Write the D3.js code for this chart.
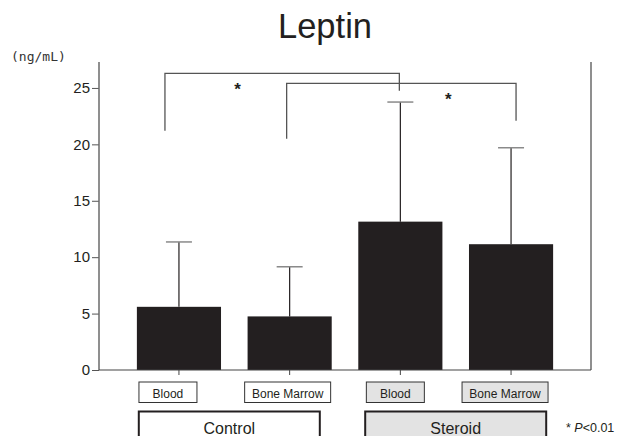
<!DOCTYPE html>
<html>
<head>
<meta charset="utf-8">
<script src="https://cdn.jsdelivr.net/npm/d3@7/dist/d3.min.js"></script>
<style>
  html, body { margin: 0; padding: 0; background: #fff; }
  svg { display: block; }
</style>
</head>
<body>
<svg id="chart" width="621" height="436"></svg>
<script>
// Leptin concentration (ng/mL), mean + SD, by treatment group and tissue
const groups  = ["Control", "Control", "Steroid", "Steroid"];
const tissues = ["Blood", "Bone Marrow", "Blood", "Bone Marrow"];
const means   = [5.6, 4.75, 13.15, 11.15];
const sds     = [5.75, 4.4, 10.6, 8.55];
const yTicks  = [0, 5, 10, 15, 20, 25];
const groupNames = ["Control", "Steroid"];

// Significance brackets: bar indices, bracket height and leg end levels (ng/mL)
const bracketFrom   = [0, 1];
const bracketTo     = [2, 3];
const bracketLevel  = [26.3, 25.4];
const bracketLeftEnd  = [21.2, 20.5];
const bracketRightEnd = [24.75, 22.1];

const keys = means.map((_, i) => i);

const svg = d3.select("#chart");
const sans = "'Liberation Sans', Arial, sans-serif";

const x = d3.scaleBand()
  .domain(keys)
  .range([123.6, 566.4])
  .paddingInner(0.24)
  .paddingOuter(0.12);

const y = d3.scaleLinear().domain([0, 27.3]).range([370, 62]);

const cx = i => x(i) + x.bandwidth() / 2;

// Title
svg.append("text")
  .attr("x", 325).attr("y", 38)
  .attr("text-anchor", "middle")
  .attr("font-family", sans)
  .attr("font-size", 34.5)
  .attr("fill", "#231f20")
  .text("Leptin");

// Unit label
svg.append("text")
  .attr("x", 11).attr("y", 61)
  .attr("font-family", "'DejaVu Sans Mono', monospace")
  .attr("font-size", 13)
  .attr("fill", "#333")
  .text("(ng/mL)");

// Bars
svg.append("g").selectAll("rect")
  .data(keys)
  .join("rect")
  .attr("x", i => x(i))
  .attr("width", x.bandwidth())
  .attr("y", i => y(means[i]))
  .attr("height", i => y(0) - y(means[i]))
  .attr("fill", "#231f20");

// Error bars (upper SD)
const err = svg.append("g");
err.selectAll("line.stem")
  .data(keys)
  .join("line")
  .attr("class", "stem")
  .attr("x1", cx).attr("x2", cx)
  .attr("y1", i => y(means[i]))
  .attr("y2", i => y(means[i] + sds[i]))
  .attr("stroke", "#231f20")
  .attr("stroke-width", 1.2);
err.selectAll("line.cap")
  .data(keys)
  .join("line")
  .attr("class", "cap")
  .attr("x1", i => cx(i) - 13).attr("x2", i => cx(i) + 13)
  .attr("y1", i => y(means[i] + sds[i]))
  .attr("y2", i => y(means[i] + sds[i]))
  .attr("stroke", "#8a8a8a")
  .attr("stroke-width", 1.5);

// Axes
const yAxis = d3.axisLeft(y)
  .tickValues(yTicks)
  .tickSize(7)
  .tickPadding(2)
  .tickFormat(d3.format("d"));
const gy = svg.append("g")
  .attr("transform", "translate(99,0)")
  .call(yAxis);
gy.select(".domain").remove();
gy.selectAll(".tick line").attr("stroke", "#555");
gy.selectAll(".tick text")
  .attr("font-family", sans)
  .attr("font-size", 15)
  .attr("fill", "#231f20");

const axisColor = "#6a6a6a";
svg.append("line")
  .attr("x1", 99).attr("x2", 99)
  .attr("y1", y.range()[1]).attr("y2", y(0))
  .attr("stroke", axisColor).attr("stroke-width", 1.5);
svg.append("line")
  .attr("x1", 591).attr("x2", 591)
  .attr("y1", y.range()[1]).attr("y2", y(0))
  .attr("stroke", axisColor).attr("stroke-width", 1.5);
svg.append("line")
  .attr("x1", 99).attr("x2", 591)
  .attr("y1", y(0)).attr("y2", y(0))
  .attr("stroke", "#444").attr("stroke-width", 1.2);

// Category ticks below the baseline
svg.append("g").selectAll("line")
  .data(keys)
  .join("line")
  .attr("x1", cx).attr("x2", cx)
  .attr("y1", y(0)).attr("y2", y(0) + 5)
  .attr("stroke", "#444").attr("stroke-width", 1);

// Significance brackets
const legOffsetL = [-14, -3];
const legOffsetR = [-1, 5];
const starFrac = [0.31, 0.705];
const br = svg.append("g");
bracketFrom.forEach((a, k) => {
  const b = bracketTo[k];
  const xl = cx(a) + legOffsetL[k];
  const xr = cx(b) + legOffsetR[k];
  const path = d3.path();
  path.moveTo(xl, y(bracketLeftEnd[k]));
  path.lineTo(xl, y(bracketLevel[k]));
  path.lineTo(xr, y(bracketLevel[k]));
  path.lineTo(xr, y(bracketRightEnd[k]));
  br.append("path")
    .attr("d", path.toString())
    .attr("fill", "none")
    .attr("stroke", "#555")
    .attr("stroke-width", 1.3);
  br.append("text")
    .attr("x", xl + (xr - xl) * starFrac[k])
    .attr("y", y(bracketLevel[k]) + 22)
    .attr("text-anchor", "middle")
    .attr("font-family", sans)
    .attr("font-size", 17)
    .attr("font-weight", "bold")
    .attr("fill", "#231f20")
    .text("*");
});

// Tissue label boxes
const groupFill = g => g === "Steroid" ? "#e3e3e3" : "#fff";
const tissueW = t => t === "Blood" ? 58 : 86;
const tissueShift = [-11, -2, -5, -6];
const tl = svg.append("g");
keys.forEach(i => {
  const c = cx(i) + tissueShift[i];
  const w = tissueW(tissues[i]);
  tl.append("rect")
    .attr("x", c - w / 2).attr("y", 382)
    .attr("width", w).attr("height", 20.5)
    .attr("fill", groupFill(groups[i]))
    .attr("stroke", "#333").attr("stroke-width", 1);
  tl.append("text")
    .attr("x", c).attr("y", 397.5)
    .attr("text-anchor", "middle")
    .attr("font-family", sans)
    .attr("font-size", 12)
    .attr("fill", "#231f20")
    .text(tissues[i]);
});

// Group label boxes
const groupShift = [-5, 0];
const gl = svg.append("g");
groupNames.forEach((g, gi) => {
  const idx = keys.filter(i => groups[i] === g);
  const c = (cx(idx[0]) + cx(idx[idx.length - 1])) / 2 + groupShift[gi];
  gl.append("rect")
    .attr("x", c - 90.5).attr("y", 411.5)
    .attr("width", 181).attr("height", 40)
    .attr("fill", groupFill(g))
    .attr("stroke", "#231f20").attr("stroke-width", 2);
  gl.append("text")
    .attr("x", c).attr("y", 433.5)
    .attr("text-anchor", "middle")
    .attr("font-family", sans)
    .attr("font-size", 16)
    .attr("fill", "#231f20")
    .text(g);
});

// Significance note
const note = svg.append("text")
  .attr("x", 566).attr("y", 431.5)
  .attr("font-family", sans)
  .attr("font-size", 12.5)
  .attr("fill", "#231f20");
note.append("tspan").text("* ");
note.append("tspan").attr("font-style", "italic").text("P");
note.append("tspan").text("<0.01");
</script>
</body>
</html>
